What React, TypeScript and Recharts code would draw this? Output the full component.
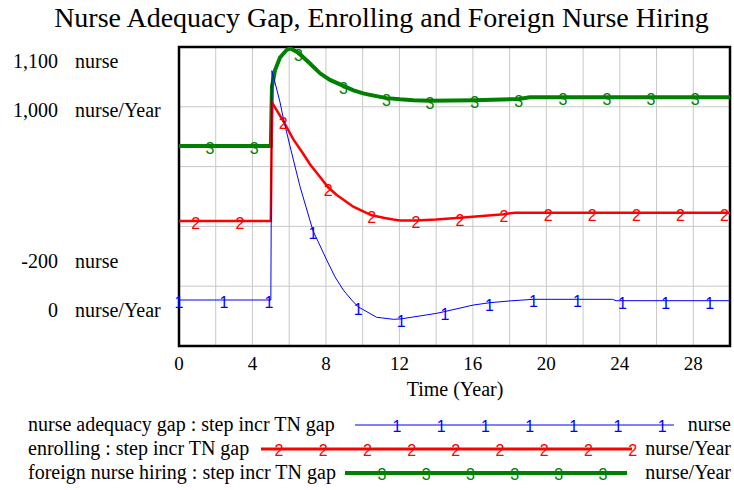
import React from "react";
import { LineChart, Line, XAxis, YAxis, CartesianGrid, ReferenceArea } from "recharts";

// nurse adequacy gap (nurse)
const gapTime = [0, 2.45, 4.9, 5, 5.06, 5.5, 5.68, 6.04, 6.59, 7.3, 7.58, 8.04, 8.49, 8.95, 9.4, 9.76, 10.76, 11.67, 12.1, 14.03, 14.48, 16.02, 16.9, 18.02, 19.3, 21.7, 23.6, 23.8, 24.15, 26.5, 28.9, 30];
const gapValue = [0, 0, 0, 0, 997, 860, 790, 670, 493, 300, 253, 174, 101, 43, 0, -30, -75, -84, -82, -58, -50, -22, -12, -4, 3, 3, 3, -3, -3, -3, -3, -3];
const gapMarks = [0, 2.45, 4.9, 7.3, 9.76, 12.1, 14.48, 16.9, 19.3, 21.7, 24.15, 26.5, 28.9];

// enrolling (nurse/Year)
const enrollTime = [0, 0.91, 3.32, 5, 5.06, 5.68, 6.22, 6.77, 7.13, 7.68, 8.13, 8.59, 9.49, 10.49, 11.2, 11.67, 12.03, 12.9, 14, 15.3, 16.5, 17.69, 18.3, 20.1, 22.5, 24.9, 27.3, 29.7, 30];
const enrollValue = [418, 418, 418, 418, 815, 752, 692, 642, 608, 565, 530, 505, 466, 437, 428, 423, 420, 420, 423, 429, 435, 441, 446, 446, 446, 446, 446, 446, 446];
const enrollMarks = [0.91, 3.32, 5.68, 8.13, 10.49, 12.9, 15.3, 17.69, 20.1, 22.5, 24.9, 27.3, 29.7];

// foreign nurse hiring (nurse/Year)
const hireTime = [0, 1.69, 4.1, 5, 5.06, 5.23, 5.5, 5.86, 6.04, 6.5, 7.13, 7.68, 8.22, 8.95, 9.5, 10.03, 10.4, 11.3, 12.03, 12.76, 13.67, 16.1, 18.5, 19.1, 20.9, 23.3, 25.7, 28.1, 30];
const hireValue = [669, 669, 669, 669, 867, 923, 965, 990, 996, 981, 945, 912, 890, 870, 855, 845, 840, 829, 825, 822, 820, 822, 826, 832, 832, 832, 832, 832, 832];
const hireMarks = [1.69, 4.1, 6.5, 8.95, 11.3, 13.67, 16.1, 18.5, 20.9, 23.3, 25.7, 28.1];

const timeTicks = [0, 2, 4, 6, 8, 10, 12, 14, 16, 18, 20, 22, 24, 26, 28, 30];
const rateTicks = [0, 200, 400, 600, 800, 1000];

const legendRows = [
  { name: "nurse adequacy gap : step incr TN gap", unit: "nurse", mark: "1", color: "#0000ff", width: 1, x1: 355, x2: 674, m0: 397, n: 7 },
  { name: "enrolling : step incr TN gap", unit: "nurse/Year", mark: "2", color: "#ff0000", width: 3, x1: 261, x2: 632, m0: 279, n: 9 },
  { name: "foreign nurse hiring : step incr TN gap", unit: "nurse/Year", mark: "3", color: "#008000", width: 4, x1: 345, x2: 627, m0: 382, n: 6 },
];

const SERIF = "'Liberation Serif', 'Times New Roman', serif";
const SANS = "'Liberation Sans', Arial, sans-serif";

const toRows = (ts: number[], vs: number[]) => ts.map((t, i) => ({ t, v: vs[i] }));

function marker(marks: number[], label: string, color: string) {
  return (p: any) => {
    const key = `${label}-${p.index}`;
    if (!marks.includes(p.payload.t)) return <g key={key} />;
    return (
      <text key={key} x={p.cx} y={p.cy + 8} textAnchor="middle" fontSize={16} fontFamily={SANS} fill={color}>
        {label}
      </text>
    );
  };
}

const sideText: React.CSSProperties = { position: "absolute", fontSize: 20, lineHeight: "22px", whiteSpace: "nowrap" };

export default function App() {
  return (
    <div style={{ position: "absolute", left: 0, top: 0, width: 734, height: 490, background: "#fff", fontFamily: SERIF, color: "#000" }}>
      <div style={{ position: "absolute", left: 0, width: 763, top: 2, textAlign: "center", fontSize: 28, lineHeight: "32px" }}>
        Nurse Adequacy Gap, Enrolling and Foreign Nurse Hiring
      </div>

      <div style={{ ...sideText, right: 676, top: 50 }}>1,100</div>
      <div style={{ ...sideText, left: 75, top: 50 }}>nurse</div>
      <div style={{ ...sideText, right: 676, top: 99 }}>1,000</div>
      <div style={{ ...sideText, left: 75, top: 99 }}>nurse/Year</div>
      <div style={{ ...sideText, right: 676, top: 250 }}>-200</div>
      <div style={{ ...sideText, left: 75, top: 250 }}>nurse</div>
      <div style={{ ...sideText, right: 676, top: 299 }}>0</div>
      <div style={{ ...sideText, left: 75, top: 299 }}>nurse/Year</div>

      <LineChart width={734} height={490} margin={{ top: 47, left: 179, right: 4, bottom: 114 }}>
        <CartesianGrid yAxisId="rate" stroke="#c8c8c8" strokeWidth={1} />
        <XAxis
          type="number"
          dataKey="t"
          domain={[0, 30]}
          ticks={timeTicks}
          height={30}
          tickLine={false}
          axisLine={false}
          tickMargin={5}
          tickFormatter={(v: number) => (v % 4 === 0 ? String(v) : "")}
          tick={{ fontSize: 19, fill: "#000", fontFamily: SERIF }}
          allowDuplicatedCategory
        />
        <YAxis yAxisId="rate" domain={[0, 1000]} ticks={rateTicks} allowDataOverflow hide />
        <YAxis yAxisId="nurse" domain={[-200, 1100]} allowDataOverflow hide />
        <Line
          yAxisId="rate"
          data={toRows(hireTime, hireValue)}
          dataKey="v"
          type="linear"
          stroke="#008000"
          strokeWidth={4}
          dot={marker(hireMarks, "3", "#008000")}
          activeDot={false}
          isAnimationActive={false}
        />
        <Line
          yAxisId="rate"
          data={toRows(enrollTime, enrollValue)}
          dataKey="v"
          type="linear"
          stroke="#ff0000"
          strokeWidth={2.5}
          dot={marker(enrollMarks, "2", "#ff0000")}
          activeDot={false}
          isAnimationActive={false}
        />
        <Line
          yAxisId="nurse"
          data={toRows(gapTime, gapValue)}
          dataKey="v"
          type="linear"
          stroke="#0000ff"
          strokeWidth={1}
          dot={marker(gapMarks, "1", "#0000ff")}
          activeDot={false}
          isAnimationActive={false}
        />
        <ReferenceArea yAxisId="rate" x1={0} x2={30} y1={0} y2={1000} fill="none" stroke="#000" strokeWidth={2.5} ifOverflow="visible" />
      </LineChart>

      <div style={{ position: "absolute", left: 0, width: 910, top: 378, textAlign: "center", fontSize: 20, lineHeight: "22px" }}>
        Time (Year)
      </div>

      <svg width={734} height={80} style={{ position: "absolute", left: 0, top: 410 }}>
        {legendRows.map((r, i) => {
          const y = 15 + i * 24;
          return (
            <g key={r.name}>
              <text x={28} y={y + 6} fontSize={20} fontFamily={SERIF}>{r.name}</text>
              <line x1={r.x1} x2={r.x2} y1={y} y2={y} stroke={r.color} strokeWidth={r.width} />
              {Array.from({ length: r.n }, (_, k) => (
                <text key={k} x={r.m0 + k * 44.2} y={y + 7} textAnchor="middle" fontSize={16} fontFamily={SANS} fill={r.color}>
                  {r.mark}
                </text>
              ))}
              <text x={731} y={y + 6} fontSize={20} fontFamily={SERIF} textAnchor="end">{r.unit}</text>
            </g>
          );
        })}
      </svg>
    </div>
  );
}
